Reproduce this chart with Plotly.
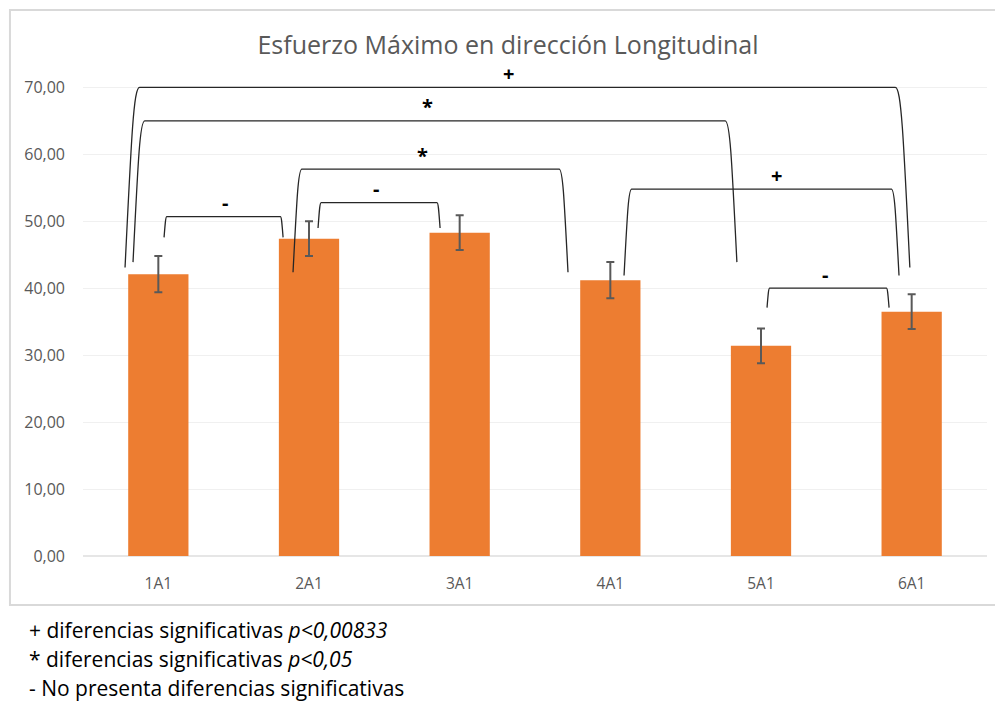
import plotly.graph_objects as go

# datos
categorias = ["1A1", "2A1", "3A1", "4A1", "5A1", "6A1"]
esfuerzo = [42.1, 47.4, 48.3, 41.2, 31.4, 36.5]
error = [2.7, 2.6, 2.6, 2.7, 2.6, 2.6]
y_ticks = [0, 10, 20, 30, 40, 50, 60, 70]

# comparaciones: (x pie izq, x pie der, y superior, y pie, simbolo, x simbolo)
comparaciones = [
    (-0.221, 4.988, 70.0, 43.1, "+", 2.321),
    (-0.168, 3.840, 65.0, 43.9, "*", 1.789),
    (0.894, 2.719, 57.8, 42.4, "*", 1.750),
    (0.038, 0.828, 50.7, 47.6, "-", 0.442),
    (1.060, 1.870, 52.8, 49.0, "-", 1.445),
    (3.091, 4.916, 54.8, 41.9, "+", 4.106),
    (4.040, 4.850, 40.0, 37.1, "-", 4.425),
]

notas = [
    "+ diferencias significativas <i>p&lt;0,00833</i>",
    "* diferencias significativas <i>p&lt;0,05</i>",
    "- No presenta diferencias significativas",
]

FONT = "Open Sans"
GRIS = "#595959"

x_pos = list(range(len(categorias)))

fig = go.Figure()
fig.add_trace(go.Bar(
    x=x_pos, y=esfuerzo, width=0.4,
    marker=dict(color="#ED7D31", line=dict(width=0)),
    error_y=dict(type="data", array=error, color=GRIS, thickness=2, width=4),
    showlegend=False,
))


def bracket_path(xl, xr, ytop, yfoot):
    h = ytop - yfoot
    dx = 0.0033 * h + 0.008
    return (f"M {xl},{yfoot} C {xl + 0.45*dx},{yfoot + 0.75*h} {xl + 0.6*dx},{ytop} {xl + dx},{ytop} "
            f"L {xr - dx},{ytop} C {xr - 0.6*dx},{ytop} {xr - 0.45*dx},{yfoot + 0.75*h} {xr},{yfoot}")


shapes = []
annotations = []
for xl, xr, ytop, yfoot, simbolo, xs in comparaciones:
    shapes.append(dict(type="path", xref="x", yref="y", path=bracket_path(xl, xr, ytop, yfoot),
                       line=dict(color="#262626", width=1.3), layer="above"))
    annotations.append(dict(x=xs, y=ytop, xref="x", yref="y", text=f"<b>{simbolo}</b>",
                            showarrow=False, yanchor="middle", yshift=14,
                            font=dict(family=FONT, size=20, color="black")))

# marco del gráfico
shapes.append(dict(type="rect", xref="paper", yref="paper", x0=-0.0808, x1=1.03, y0=-0.1017, y1=1.1328,
                   line=dict(color="#D9D9D9", width=2), layer="below"))

for i, nota in enumerate(notas):
    annotations.append(dict(x=-0.0615, y=-0.1535 - i*0.0602, xref="paper", yref="paper",
                            xanchor="left", yanchor="middle", text=nota, showarrow=False,
                            font=dict(family=FONT, size=21, color="black")))

fig.update_layout(
    width=1003, height=703,
    margin=dict(l=75, r=24, t=66, b=155),
    plot_bgcolor="white", paper_bgcolor="white",
    separators=",.",
    title=dict(text="Esfuerzo Máximo en dirección Longitudinal", x=0.4985, y=1 - 37/703,
               xref="container", yref="container", xanchor="center", yanchor="middle",
               font=dict(family=FONT, size=25, color=GRIS)),
    shapes=shapes, annotations=annotations,
    bargap=0.6,
)
fig.update_xaxes(range=[-0.5, 5.5], tickvals=x_pos, ticktext=categorias, showgrid=False,
                 zeroline=False, showline=False, ticklabelstandoff=16,
                 tickfont=dict(family=FONT, size=15.5, color=GRIS))
fig.update_yaxes(range=[0, 72], tickvals=y_ticks, tickformat=".2f", showgrid=True,
                 gridcolor="#F0F0F0", gridwidth=1, zeroline=True, zerolinecolor="#E6E6E6",
                 showline=False, ticklabelstandoff=17,
                 tickfont=dict(family=FONT, size=16, color=GRIS))

fig.write_html("out.html")
